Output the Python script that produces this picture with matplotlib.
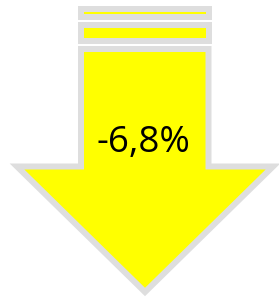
import matplotlib
matplotlib.use("Agg")
import matplotlib.pyplot as plt
from matplotlib.patches import Polygon, Rectangle

# value shown on the arrow
change = -6.8
label = f"{change:.1f}%".replace(".", ",")

fill_color = "#FFFF00"
edge_color = "#DEDEDE"

# arrow outline in pixel space (stroke centre)
shaft_left, shaft_right, shaft_top = 81, 208.5, 49
head_y, head_left, head_right = 166.5, 17, 273
tip_x, tip_y = 145, 292

# stripes above the arrow: (top, bottom)
stripes = [(9, 16.5), (25, 40.5)]

fig = plt.figure(figsize=(2.79, 2.97), dpi=100)
ax = fig.add_axes([0, 0, 1, 1])
ax.set_xlim(0, 279)
ax.set_ylim(297, 0)
ax.axis("off")

lw = 6 * 72 / 100

for top, bottom in stripes:
    ax.add_patch(Rectangle((shaft_left, top), shaft_right - shaft_left, bottom - top,
                           facecolor=fill_color, edgecolor=edge_color, linewidth=lw,
                           joinstyle="miter"))

arrow = Polygon([
    (shaft_left, shaft_top), (shaft_right, shaft_top), (shaft_right, head_y),
    (head_right, head_y), (tip_x, tip_y), (head_left, head_y), (shaft_left, head_y)
], closed=True, facecolor=fill_color, edgecolor=edge_color, linewidth=lw, joinstyle="miter")
ax.add_patch(arrow)

ax.text(143.5, 143, label, ha="center", va="center", fontsize=26.5,
        family="Open Sans", color="black")

fig.savefig("out.png", dpi=100)
